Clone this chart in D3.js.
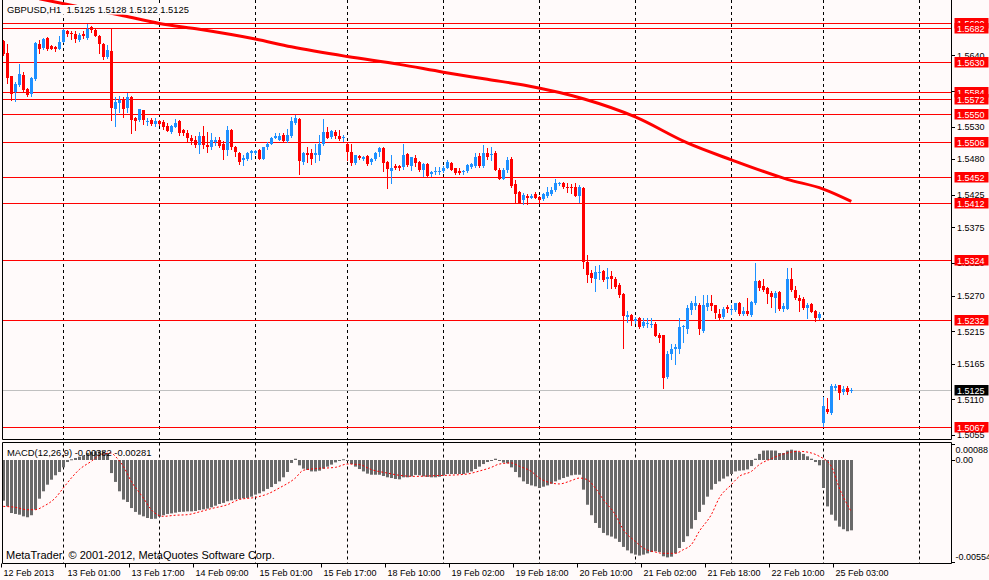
<!DOCTYPE html>
<html><head><meta charset="utf-8">
<script src="https://cdn.jsdelivr.net/npm/d3@7"></script>
<style>
html,body{margin:0;padding:0;background:#fffafa;}
svg{display:block;}
text{font-family:"Liberation Sans",Arial,sans-serif;white-space:pre;}
</style></head><body>
<svg id="c" width="989" height="580"></svg>
<script>
// ---------------- DATA ----------------
const symbolTitle = "GBPUSD,H1  1.5125 1.5128 1.5122 1.5125";
const macdTitle = "MACD(12,26,9) -0.00382 -0.00281";
const watermark = "MetaTrader  \u00A9 2001-2012, MetaQuotes Software Corp.";

const openP = [1.5662,1.5644,1.5608,1.5583,1.5594,1.5610,1.5588,1.5580,1.5603,1.5657,
1.5651,1.5666,1.5654,1.5652,1.5650,1.5661,1.5678,1.5675,1.5673,1.5663,
1.5672,1.5666,1.5683,1.5679,1.5670,1.5657,1.5637,1.5646,1.5558,1.5567,
1.5572,1.5559,1.5575,1.5543,1.5540,1.5556,1.5537,1.5540,1.5534,1.5539,
1.5537,1.5531,1.5522,1.5530,1.5539,1.5525,1.5520,1.5513,1.5510,1.5502,
1.5516,1.5502,1.5498,1.5507,1.5509,1.5504,1.5494,1.5525,1.5499,1.5490,
1.5478,1.5480,1.5489,1.5490,1.5494,1.5481,1.5498,1.5504,1.5513,1.5510,
1.5517,1.5508,1.5516,1.5536,1.5542,1.5476,1.5490,1.5490,1.5486,1.5487,
1.5503,1.5522,1.5514,1.5522,1.5516,1.5512,1.5504,1.5491,1.5474,1.5485,
1.5480,1.5485,1.5475,1.5481,1.5491,1.5497,1.5475,1.5462,1.5469,1.5470,
1.5468,1.5488,1.5470,1.5482,1.5475,1.5463,1.5472,1.5457,1.5460,1.5460,
1.5462,1.5467,1.5474,1.5466,1.5462,1.5460,1.5462,1.5468,1.5469,1.5485,
1.5469,1.5489,1.5486,1.5489,1.5464,1.5450,1.5463,1.5480,1.5442,1.5430,
1.5417,1.5424,1.5421,1.5426,1.5422,1.5419,1.5423,1.5426,1.5432,1.5442,
1.5443,1.5437,1.5437,1.5437,1.5424,1.5436,1.5322,1.5305,1.5296,1.5304,
1.5308,1.5295,1.5300,1.5295,1.5286,1.5273,1.5237,1.5240,1.5231,1.5236,
1.5223,1.5226,1.5225,1.5226,1.5209,1.5209,1.5144,1.5180,1.5188,1.5188,
1.5221,1.5218,1.5248,1.5254,1.5255,1.5215,1.5252,1.5259,1.5255,1.5242,
1.5237,1.5253,1.5249,1.5248,1.5259,1.5241,1.5246,1.5240,1.5258,1.5292,
1.5285,1.5282,1.5274,1.5266,1.5276,1.5249,1.5250,1.5296,1.5278,1.5266,
1.5265,1.5251,1.5257,1.5246,1.5236,1.5074,1.5096,1.5089,1.5128,1.5132,
1.5122,1.5128,1.5125];
const highP = [1.5664,1.5657,1.5608,1.5599,1.5626,1.5615,1.5589,1.5607,1.5661,1.5664,
1.5667,1.5668,1.5656,1.5654,1.5670,1.5681,1.5679,1.5677,1.5677,1.5674,
1.5677,1.5688,1.5685,1.5681,1.5671,1.5659,1.5656,1.5681,1.5576,1.5578,
1.5576,1.5582,1.5577,1.5545,1.5558,1.5556,1.5544,1.5544,1.5543,1.5541,
1.5540,1.5536,1.5532,1.5542,1.5540,1.5527,1.5525,1.5517,1.5516,1.5522,
1.5531,1.5522,1.5520,1.5514,1.5514,1.5508,1.5531,1.5526,1.5500,1.5491,
1.5486,1.5491,1.5494,1.5494,1.5495,1.5499,1.5506,1.5514,1.5520,1.5520,
1.5520,1.5527,1.5545,1.5548,1.5543,1.5491,1.5499,1.5495,1.5503,1.5517,
1.5542,1.5530,1.5525,1.5525,1.5525,1.5518,1.5506,1.5504,1.5487,1.5487,
1.5485,1.5487,1.5482,1.5491,1.5498,1.5498,1.5477,1.5486,1.5472,1.5471,
1.5504,1.5489,1.5484,1.5486,1.5477,1.5474,1.5474,1.5462,1.5468,1.5468,
1.5469,1.5479,1.5475,1.5467,1.5467,1.5464,1.5472,1.5474,1.5489,1.5489,
1.5502,1.5497,1.5498,1.5492,1.5466,1.5466,1.5483,1.5483,1.5448,1.5431,
1.5428,1.5426,1.5426,1.5430,1.5423,1.5428,1.5437,1.5437,1.5449,1.5445,
1.5445,1.5444,1.5442,1.5444,1.5441,1.5437,1.5332,1.5309,1.5315,1.5317,
1.5309,1.5312,1.5308,1.5299,1.5289,1.5274,1.5246,1.5241,1.5237,1.5237,
1.5235,1.5235,1.5235,1.5230,1.5212,1.5210,1.5184,1.5195,1.5196,1.5236,
1.5224,1.5256,1.5261,1.5269,1.5258,1.5271,1.5271,1.5271,1.5256,1.5250,
1.5253,1.5255,1.5255,1.5259,1.5260,1.5253,1.5267,1.5261,1.5320,1.5294,
1.5296,1.5283,1.5277,1.5277,1.5277,1.5258,1.5313,1.5312,1.5285,1.5271,
1.5268,1.5259,1.5259,1.5248,1.5244,1.5114,1.5112,1.5134,1.5134,1.5132,
1.5130,1.5130,1.5128];
const lowP = [1.5640,1.5598,1.5571,1.5570,1.5592,1.5585,1.5578,1.5577,1.5602,1.5643,
1.5650,1.5648,1.5649,1.5646,1.5649,1.5660,1.5670,1.5665,1.5661,1.5662,
1.5666,1.5665,1.5676,1.5669,1.5643,1.5634,1.5636,1.5540,1.5531,1.5553,
1.5545,1.5553,1.5521,1.5525,1.5539,1.5534,1.5533,1.5533,1.5531,1.5533,
1.5527,1.5523,1.5521,1.5529,1.5518,1.5517,1.5508,1.5503,1.5499,1.5489,
1.5497,1.5491,1.5495,1.5502,1.5499,1.5480,1.5486,1.5496,1.5485,1.5472,
1.5471,1.5479,1.5481,1.5488,1.5480,1.5480,1.5495,1.5503,1.5512,1.5509,
1.5507,1.5507,1.5514,1.5534,1.5457,1.5472,1.5475,1.5472,1.5475,1.5479,
1.5502,1.5512,1.5513,1.5512,1.5509,1.5508,1.5479,1.5471,1.5472,1.5480,
1.5479,1.5471,1.5473,1.5479,1.5485,1.5462,1.5435,1.5443,1.5465,1.5464,
1.5465,1.5470,1.5464,1.5469,1.5462,1.5454,1.5453,1.5454,1.5457,1.5457,
1.5460,1.5466,1.5463,1.5457,1.5457,1.5457,1.5461,1.5467,1.5468,1.5468,
1.5468,1.5480,1.5478,1.5463,1.5449,1.5449,1.5461,1.5437,1.5413,1.5412,
1.5411,1.5411,1.5420,1.5420,1.5412,1.5417,1.5422,1.5425,1.5431,1.5440,
1.5435,1.5430,1.5428,1.5423,1.5414,1.5312,1.5291,1.5291,1.5277,1.5296,
1.5293,1.5281,1.5281,1.5281,1.5268,1.5189,1.5230,1.5225,1.5227,1.5220,
1.5222,1.5222,1.5222,1.5207,1.5199,1.5128,1.5143,1.5173,1.5164,1.5181,
1.5199,1.5213,1.5242,1.5250,1.5211,1.5214,1.5248,1.5248,1.5235,1.5234,
1.5236,1.5245,1.5242,1.5247,1.5240,1.5240,1.5240,1.5239,1.5257,1.5278,
1.5277,1.5259,1.5252,1.5245,1.5248,1.5247,1.5249,1.5277,1.5265,1.5247,
1.5250,1.5236,1.5244,1.5231,1.5234,1.5069,1.5089,1.5088,1.5124,1.5111,
1.5119,1.5119,1.5122];
const closeP = [1.5642,1.5605,1.5580,1.5596,1.5611,1.5586,1.5579,1.5605,1.5659,1.5650,
1.5665,1.5649,1.5650,1.5649,1.5660,1.5679,1.5673,1.5673,1.5665,1.5671,
1.5669,1.5681,1.5679,1.5670,1.5658,1.5638,1.5648,1.5559,1.5568,1.5571,
1.5558,1.5576,1.5541,1.5539,1.5557,1.5541,1.5539,1.5534,1.5539,1.5534,
1.5530,1.5524,1.5531,1.5536,1.5521,1.5520,1.5513,1.5508,1.5502,1.5516,
1.5502,1.5498,1.5509,1.5509,1.5501,1.5494,1.5525,1.5498,1.5491,1.5476,
1.5482,1.5490,1.5492,1.5492,1.5481,1.5498,1.5503,1.5512,1.5516,1.5516,
1.5508,1.5518,1.5539,1.5544,1.5477,1.5490,1.5487,1.5480,1.5490,1.5503,
1.5522,1.5513,1.5524,1.5516,1.5511,1.5514,1.5491,1.5474,1.5486,1.5482,
1.5484,1.5472,1.5481,1.5490,1.5497,1.5474,1.5465,1.5467,1.5466,1.5466,
1.5486,1.5471,1.5483,1.5474,1.5463,1.5472,1.5454,1.5460,1.5462,1.5462,
1.5467,1.5475,1.5464,1.5459,1.5459,1.5462,1.5471,1.5473,1.5483,1.5469,
1.5490,1.5484,1.5488,1.5464,1.5450,1.5464,1.5479,1.5439,1.5426,1.5413,
1.5425,1.5421,1.5423,1.5421,1.5417,1.5426,1.5430,1.5433,1.5443,1.5444,
1.5437,1.5435,1.5435,1.5424,1.5437,1.5322,1.5302,1.5297,1.5307,1.5306,
1.5294,1.5299,1.5295,1.5283,1.5271,1.5238,1.5240,1.5231,1.5234,1.5222,
1.5229,1.5228,1.5226,1.5208,1.5205,1.5143,1.5180,1.5188,1.5191,1.5222,
1.5223,1.5251,1.5258,1.5258,1.5218,1.5255,1.5258,1.5254,1.5243,1.5236,
1.5250,1.5250,1.5250,1.5258,1.5242,1.5246,1.5241,1.5260,1.5292,1.5282,
1.5278,1.5273,1.5268,1.5274,1.5249,1.5254,1.5295,1.5278,1.5266,1.5262,
1.5251,1.5255,1.5245,1.5236,1.5242,1.5100,1.5090,1.5131,1.5131,1.5120,
1.5126,1.5122,1.5125];

// moving average read at sample bars
const maIdx = [9,17,30,39,49,63,72,86,99,110,121,131,145,158,171,182,196,205,212];
const maVal = [1.5727,1.5717,1.5701,1.5689,1.5680,1.5665,1.5653,1.5638,1.5626,1.5614,
1.5603,1.5593,1.5573,1.5545,1.5505,1.5479,1.5449,1.5434,1.5415];

// horizontal price lines and the bid line
const levelLines = [1.5690,1.5682,1.5630,1.5584,1.5572,1.5550,1.5506,1.5452,1.5412,1.5324,1.5232,1.5067];
const bidPrice = 1.5125;
const priceTicks = [1.5640,1.5585,1.5530,1.5480,1.5425,1.5375,1.5320,1.5270,1.5215,1.5165,1.5110,1.5055];

// MACD histogram (main line) per bar
const macdHist = [-0.00221,-0.00252,-0.00288,-0.00293,-0.00297,-0.00306,-0.00311,-0.00300,-0.00270,-0.00210,
-0.00170,-0.00134,-0.00107,-0.00083,-0.00065,-0.00040,-0.00011,0.00004,0.00011,0.00018,
0.00025,0.00038,0.00043,0.00047,0.00047,0.00047,0.00038,-0.00071,-0.00119,-0.00170,
-0.00215,-0.00228,-0.00261,-0.00282,-0.00297,-0.00306,-0.00315,-0.00320,-0.00319,-0.00308,
-0.00300,-0.00293,-0.00290,-0.00286,-0.00282,-0.00281,-0.00279,-0.00279,-0.00277,-0.00272,
-0.00268,-0.00264,-0.00257,-0.00248,-0.00239,-0.00233,-0.00224,-0.00219,-0.00214,-0.00212,
-0.00208,-0.00206,-0.00199,-0.00188,-0.00181,-0.00170,-0.00157,-0.00147,-0.00130,-0.00116,
-0.00094,-0.00065,-0.00016,0.00007,-0.00029,-0.00047,-0.00054,-0.00062,-0.00062,-0.00058,
-0.00047,-0.00036,-0.00025,-0.00013,-0.00004,0.00004,-0.00004,-0.00022,-0.00036,-0.00049,
-0.00062,-0.00074,-0.00080,-0.00080,-0.00080,-0.00087,-0.00094,-0.00098,-0.00103,-0.00105,
-0.00094,-0.00094,-0.00089,-0.00081,-0.00083,-0.00089,-0.00092,-0.00094,-0.00094,-0.00091,
-0.00083,-0.00076,-0.00076,-0.00076,-0.00076,-0.00076,-0.00069,-0.00062,-0.00049,-0.00036,
-0.00022,-0.00011,-0.00004,0.00007,-0.00004,-0.00014,-0.00018,-0.00040,-0.00065,-0.00094,
-0.00116,-0.00130,-0.00138,-0.00143,-0.00152,-0.00145,-0.00138,-0.00129,-0.00116,-0.00107,
-0.00098,-0.00091,-0.00083,-0.00080,-0.00080,-0.00161,-0.00243,-0.00300,-0.00342,-0.00369,
-0.00396,-0.00409,-0.00416,-0.00427,-0.00445,-0.00472,-0.00491,-0.00507,-0.00514,-0.00519,
-0.00514,-0.00507,-0.00500,-0.00496,-0.00500,-0.00523,-0.00529,-0.00525,-0.00507,-0.00478,
-0.00445,-0.00414,-0.00373,-0.00326,-0.00282,-0.00243,-0.00199,-0.00161,-0.00130,-0.00116,
-0.00101,-0.00089,-0.00076,-0.00062,-0.00058,-0.00056,-0.00051,-0.00033,0.00007,0.00033,
0.00051,0.00052,0.00052,0.00051,0.00038,0.00038,0.00051,0.00056,0.00051,0.00043,
0.00033,0.00020,0.00007,-0.00011,-0.00029,-0.00152,-0.00252,-0.00297,-0.00329,-0.00362,
-0.00376,-0.00387,-0.00382];

// MACD signal line read at sample bars
const sigIdx = [0,3,6,8,10,13,15,17,19,22,24,27,28,30,32,35,37,40,43,46,49,52,56,59,63,66,69,73,75,78,
83,86,89,92,96,99,103,108,111,116,119,122,124,127,129,132,134,137,139,142,144,146,148,150,153,155,158,160,163,165,
168,170,172,174,177,179,182,184,187,189,192,194,197,199,202,204,207,209,212];
const sigVal = [-0.00252,-0.00257,-0.00270,-0.00270,-0.00252,-0.00206,-0.00152,-0.00098,-0.00052,-0.00007,
0.00025,0.00038,0.00020,-0.00034,-0.00116,-0.00206,-0.00270,-0.00306,-0.00300,-0.00297,
-0.00282,-0.00264,-0.00243,-0.00215,-0.00203,-0.00185,-0.00152,-0.00098,-0.00056,-0.00047,
-0.00040,-0.00022,-0.00025,-0.00052,-0.00071,-0.00083,-0.00089,-0.00085,-0.00083,-0.00076,
-0.00060,-0.00040,-0.00022,-0.00016,-0.00034,-0.00062,-0.00098,-0.00125,-0.00130,-0.00112,
-0.00098,-0.00107,-0.00152,-0.00215,-0.00297,-0.00378,-0.00442,-0.00478,-0.00500,-0.00507,
-0.00507,-0.00487,-0.00460,-0.00387,-0.00297,-0.00206,-0.00134,-0.00089,-0.00062,-0.00025,
0.00007,0.00025,0.00043,0.00047,0.00038,0.00020,-0.00034,-0.00152,-0.00281];
const macdScaleLabels = ["0.00088","0.00","-0.00554"];
const macdScaleVals = [0.00088,0,-0.00554];

// time axis
const dateIdx = [0,16,32,48,64,80,96,112,128,144,160,176,192,208];
const dateLabels = ["12 Feb 2013","13 Feb 01:00","13 Feb 17:00","14 Feb 09:00","15 Feb 01:00","15 Feb 17:00",
"18 Feb 10:00","19 Feb 02:00","19 Feb 18:00","20 Feb 10:00","21 Feb 02:00","21 Feb 18:00","22 Feb 10:00","25 Feb 03:00"];
const dayGridIdx = [15,39,63,86,110,134,158,182,205,229];

// ---------------- DRAW ----------------
const BG = "#fffafa", BULL = "#1e90ff", BEAR = "#ff0000";
const svg = d3.select("#c");
svg.append("rect").attr("width",989).attr("height",580).attr("fill",BG);

const x = d3.scaleLinear().domain([0,237]).range([3.3,3.3+4*237]);
const y = d3.scaleLinear().domain([1.5682,1.5067]).range([28,427.4]);
const ym = d3.scaleLinear().domain([0,-0.00554]).range([460,562]);

const R = 952, MAINB = 439.5, MT = 442.5, MB = 563.5;
const px = i => Math.round(x(i));

const defs = svg.append("defs");
defs.append("clipPath").attr("id","cm").append("rect").attr("x",2.5).attr("y",0).attr("width",R-2.5).attr("height",MAINB);
defs.append("clipPath").attr("id","cd").append("rect").attr("x",2.5).attr("y",MT).attr("width",R-2.5).attr("height",MB-MT);

const main = svg.append("g").attr("clip-path","url(#cm)");
const sub = svg.append("g").attr("clip-path","url(#cd)");

// vertical day grid
[[main,0,MAINB],[sub,MT,MB]].forEach(([g,a,b])=>{
  g.selectAll(null).data(dayGridIdx).join("line")
   .attr("x1",d=>px(d)+0.5).attr("x2",d=>px(d)+0.5).attr("y1",a).attr("y2",b)
   .attr("stroke","#000").attr("stroke-width",1).attr("stroke-dasharray","3,3");
});

// horizontal level lines
main.selectAll(null).data(levelLines).join("line")
  .attr("x1",2).attr("x2",R).attr("y1",d=>Math.round(y(d))+0.5).attr("y2",d=>Math.round(y(d))+0.5)
  .attr("stroke","#ff0000").attr("stroke-width",1);
main.append("line").attr("x1",2).attr("x2",R)
  .attr("y1",Math.round(y(bidPrice))+0.5).attr("y2",Math.round(y(bidPrice))+0.5)
  .attr("stroke","#c0c0c0").attr("stroke-width",1);

// candles
const bars = closeP.map((c,i)=>({i,o:openP[i],h:highP[i],l:lowP[i],c}));
const col = d => d.c>=d.o ? BULL : BEAR;
main.selectAll(null).data(bars).join("line")
  .attr("x1",d=>px(d.i)+0.5).attr("x2",d=>px(d.i)+0.5)
  .attr("y1",d=>Math.round(y(d.h))).attr("y2",d=>Math.round(y(d.l))+1)
  .attr("stroke",col).attr("stroke-width",1);
main.selectAll(null).data(bars).join("rect")
  .attr("x",d=>px(d.i)-1).attr("width",3)
  .attr("y",d=>Math.round(y(Math.max(d.o,d.c))))
  .attr("height",d=>Math.max(1,Math.round(y(Math.min(d.o,d.c)))-Math.round(y(Math.max(d.o,d.c)))))
  .attr("fill",col);

// moving average
main.append("path").datum(maIdx.map((d,k)=>[d,maVal[k]]))
  .attr("d",d3.line().x(d=>x(d[0])).y(d=>y(d[1])).curve(d3.curveMonotoneX))
  .attr("fill","none").attr("stroke","#ff0000").attr("stroke-width",3);

// title with background box (hides the line beneath it)
const titleBg = svg.append("rect").attr("fill",BG);
const tt = svg.append("text").attr("x",7).attr("y",13).attr("font-size",9.4).attr("fill","#000").text(symbolTitle);
const tw = tt.node().getComputedTextLength();
titleBg.attr("x",5).attr("y",5).attr("width",tw+5).attr("height",9.6);

// MACD histogram
sub.selectAll(null).data(macdHist.map((v,i)=>({i,v}))).join("rect")
  .attr("x",d=>px(d.i)-1).attr("width",3)
  .attr("y",d=>Math.min(ym(0),ym(d.v)))
  .attr("height",d=>Math.max(1,Math.abs(ym(d.v)-ym(0))))
  .attr("fill","#696969");
sub.append("path").datum(sigIdx.map((d,k)=>[d,sigVal[k]]))
  .attr("d",d3.line().x(d=>x(d[0])).y(d=>ym(d[1])).curve(d3.curveMonotoneX))
  .attr("fill","none").attr("stroke","#ff0000").attr("stroke-width",1).attr("stroke-dasharray","2,2");
svg.append("text").attr("x",7).attr("y",455.5).attr("font-size",9.4).attr("fill","#000").text(macdTitle);
svg.append("text").attr("x",6).attr("y",558.5).attr("font-size",11).attr("fill","#000").text(watermark);

// frames
const fr = svg.append("g").attr("fill","none").attr("stroke","#000").attr("stroke-width",1);
fr.append("path").attr("d",`M2.5,0V${MAINB}H${R-0.5}V0`);
fr.append("path").attr("d",`M2.5,${MT}H${R-0.5}V${MB}H2.5Z`);

// right price axis
const ax = svg.append("g");
ax.selectAll(null).data(priceTicks).join("line")
  .attr("x1",R).attr("x2",R+3).attr("y1",d=>Math.round(y(d))+0.5).attr("y2",d=>Math.round(y(d))+0.5)
  .attr("stroke","#000");
ax.selectAll(null).data(priceTicks).join("text")
  .attr("x",957).attr("y",d=>y(d)+3.3).attr("font-size",9).attr("fill","#000").text(d=>d.toFixed(4));
// level labels
const lab = svg.append("g");
levelLines.forEach(p=>{
  lab.append("rect").attr("x",954.5).attr("y",Math.round(y(p))-5).attr("width",34).attr("height",10.5).attr("fill","#ff0000");
  lab.append("text").attr("x",957).attr("y",Math.round(y(p))+3.6).attr("font-size",9).attr("fill","#fff").text(p.toFixed(4));
});
lab.append("rect").attr("x",954.5).attr("y",Math.round(y(bidPrice))-5).attr("width",34).attr("height",10.5).attr("fill","#000");
lab.append("text").attr("x",957).attr("y",Math.round(y(bidPrice))+3.6).attr("font-size",9).attr("fill","#fff").text(bidPrice.toFixed(4));

// MACD scale
const textY = [449.7+3.3, 460+3.3, 556.3+3.3];
macdScaleVals.forEach((v,k)=>{
  svg.append("line").attr("x1",R).attr("x2",R+3).attr("y1",Math.round(ym(v))+0.5).attr("y2",Math.round(ym(v))+0.5).attr("stroke","#000");
  svg.append("text").attr("x",955.5).attr("y",textY[k]).attr("font-size",9).attr("fill","#000").text(macdScaleLabels[k]);
});

// time axis
svg.selectAll(null).data(dateIdx).join("line")
  .attr("x1",d=>px(d)-1.5).attr("x2",d=>px(d)-1.5).attr("y1",MB).attr("y2",MB+4)
  .attr("stroke","#000");
svg.selectAll(null).data(dateIdx).join("text")
  .attr("x",d=>px(d)+0.5).attr("y",575.5).attr("font-size",9).attr("fill","#000")
  .text((d,k)=>dateLabels[k]);
</script>
</body></html>
